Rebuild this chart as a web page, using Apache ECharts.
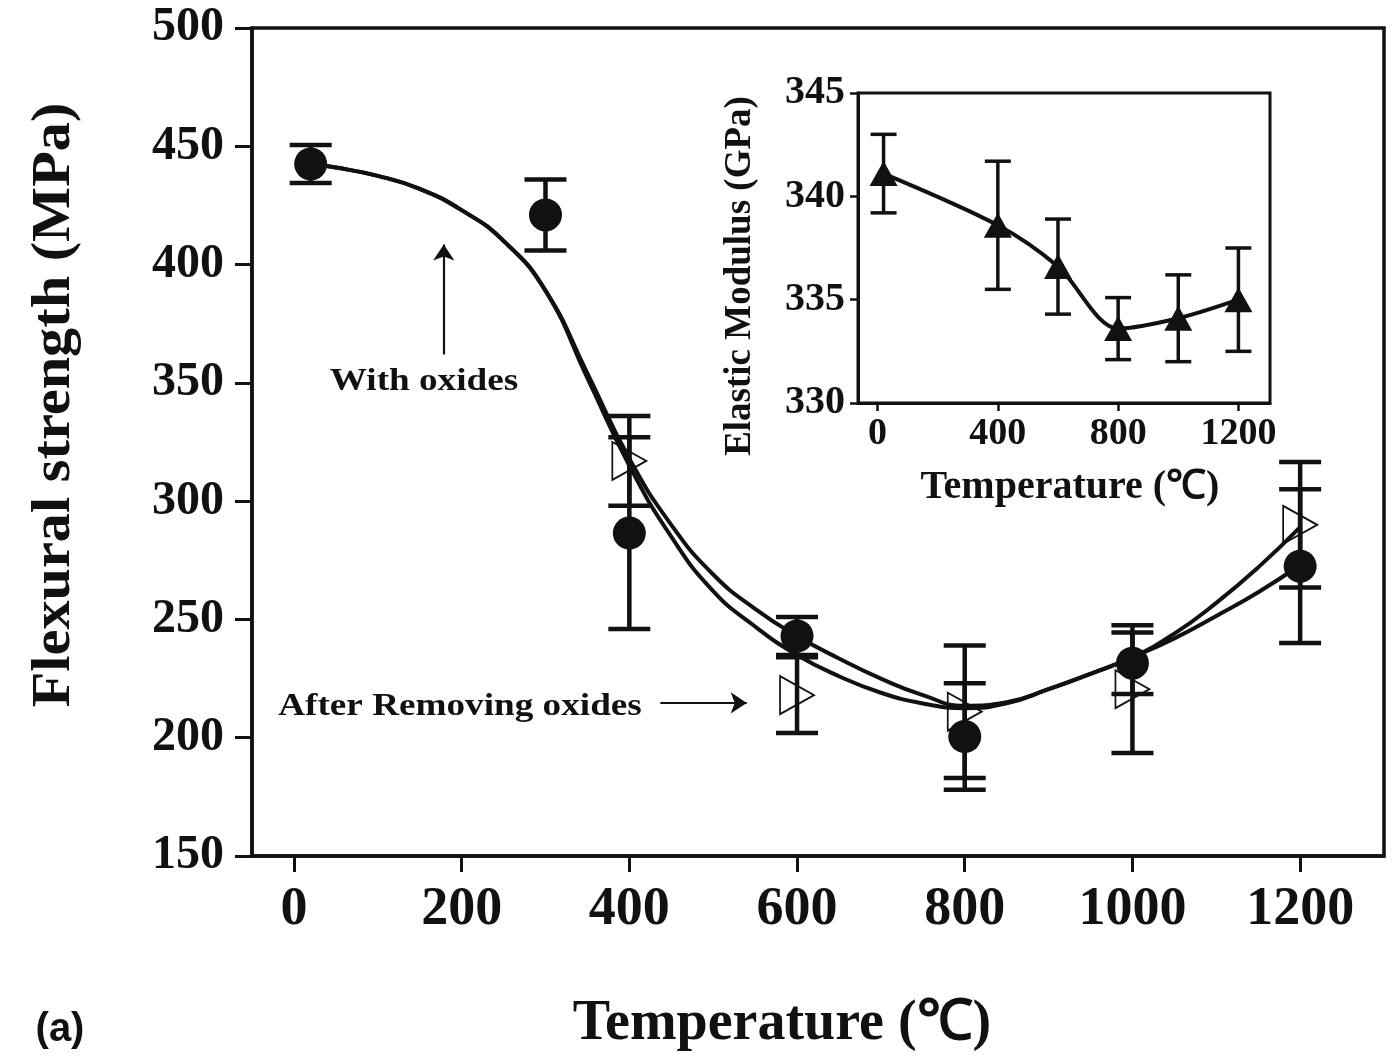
<!DOCTYPE html>
<html>
<head>
<meta charset="utf-8">
<script src="https://cdn.jsdelivr.net/npm/echarts@6/dist/echarts.min.js"></script>
<style>
html,body{margin:0;padding:0;background:#fff;}
#chart{width:1394px;height:1057px;}
</style>
</head>
<body>
<div id="chart"></div>
<script>
// ---- Main chart data (Flexural strength, MPa) ----
const tempCircle = [20, 300, 400, 600, 800, 1000, 1200];
const strengthCircle = [442.5, 421, 286.5, 243, 200.5, 231.5, 272.5];
const errCircle = [8, 15, 40.5, 8, 22.5, 13, 32.5];

const tempTriangle = [400, 600, 800, 1000, 1200];
const strengthTriangle = [317, 218, 211, 220.5, 290];
const errTriangle = [19, 16, 28, 27, 26.5];

// fitted curves
const fitTemp = [20, 50, 100, 150, 200, 250, 300, 350, 400, 450, 500, 550, 600, 650, 700, 750, 800, 850, 900, 950, 1000, 1050, 1100, 1150, 1200];
const fitCircle = [442.5, 441, 437.5, 432, 423, 410, 389, 354, 318, 290, 269, 254.5, 243, 233.5, 225, 218, 213.5, 215, 220.5, 227, 234, 242, 251.5, 261.5, 273];
const fitTriangle = [442.5, 441, 437.5, 432, 423, 410, 389, 352, 315, 285, 262, 247, 235, 226, 219, 214.5, 212.5, 214.5, 220.5, 227, 234, 244, 257, 272, 289];

const mainXTicks = [0, 200, 400, 600, 800, 1000, 1200];

// ---- Inset data (Elastic modulus, GPa) ----
const modTemp = [20, 400, 600, 800, 1000, 1200];
const modulus = [341.1, 338.6, 336.6, 333.6, 334.1, 335.0];
const modErr = [1.9, 3.1, 2.3, 1.5, 2.1, 2.5];
const insetXTicks = [0, 400, 800, 1200];

// ---- annotation arrows (data coords) ----
const arrowWith = [[178.7, 362], [178.7, 408.5]];
const arrowAfter = [[437, 214.7], [540, 214.7]];

const SERIF = '"Liberation Serif","Times New Roman",serif';
const INK = '#111';

function errRender(capW, lw) {
  return function (params, api) {
    const x = api.value(0), y = api.value(1), e = api.value(2);
    const t = api.coord([x, y + e]);
    const b = api.coord([x, y - e]);
    const hw = capW / 2;
    const st = {stroke: INK, lineWidth: lw};
    return {
      type: 'group',
      children: [
        {type: 'line', shape: {x1: t[0], y1: t[1], x2: b[0], y2: b[1]}, style: st},
        {type: 'line', shape: {x1: t[0] - hw, y1: t[1], x2: t[0] + hw, y2: t[1]}, style: st},
        {type: 'line', shape: {x1: b[0] - hw, y1: b[1], x2: b[0] + hw, y2: b[1]}, style: st}
      ]
    };
  };
}

const plain = v => String(v);

const chart = echarts.init(document.getElementById('chart'));
const option = {
  animation: false,
  backgroundColor: '#fff',
  grid: [
    {left: 252, top: 28, width: 1132, height: 828, show: true, borderColor: INK, borderWidth: 3.5, backgroundColor: 'transparent'},
    {left: 858, top: 93, width: 412, height: 310, show: true, borderColor: INK, borderWidth: 3, backgroundColor: '#fff'}
  ],
  xAxis: [
    {
      type: 'value', gridIndex: 0, min: -50, max: 1300,
      axisLine: {show: true, onZero: false, lineStyle: {color: INK, width: 3.5}},
      axisTick: {show: true, inside: false, length: 16, lineStyle: {color: INK, width: 3}, customValues: mainXTicks},
      axisLabel: {customValues: mainXTicks, formatter: plain, fontFamily: SERIF, fontWeight: 'bold', fontSize: 54, color: INK, margin: 27},
      splitLine: {show: false}
    },
    {
      type: 'value', gridIndex: 1, min: -65, max: 1305,
      axisLine: {show: true, onZero: false, lineStyle: {color: INK, width: 3}},
      axisTick: {show: true, inside: false, length: 8, lineStyle: {color: INK, width: 2.5}, customValues: insetXTicks},
      axisLabel: {customValues: insetXTicks, formatter: plain, fontFamily: SERIF, fontWeight: 'bold', fontSize: 38, color: INK, margin: 12},
      splitLine: {show: false}
    }
  ],
  yAxis: [
    {
      type: 'value', gridIndex: 0, min: 150, max: 500, interval: 50,
      axisLine: {show: true, onZero: false, lineStyle: {color: INK, width: 3.5}},
      axisTick: {show: true, inside: false, length: 17, lineStyle: {color: INK, width: 3}},
      axisLabel: {formatter: plain, fontFamily: SERIF, fontWeight: 'bold', fontSize: 48, color: INK, margin: 28},
      splitLine: {show: false}
    },
    {
      type: 'value', gridIndex: 1, min: 330, max: 345, interval: 5,
      axisLine: {show: true, onZero: false, lineStyle: {color: INK, width: 3}},
      axisTick: {show: true, inside: false, length: 8, lineStyle: {color: INK, width: 2.5}},
      axisLabel: {formatter: plain, fontFamily: SERIF, fontWeight: 'bold', fontSize: 40, color: INK, margin: 13},
      splitLine: {show: false}
    }
  ],
  series: [
    {
      name: 'fit-with', type: 'line', xAxisIndex: 0, yAxisIndex: 0,
      data: fitTemp.map((t, i) => [t, fitCircle[i]]),
      smooth: 0.5, showSymbol: false, lineStyle: {color: INK, width: 4}, z: 2,
      markLine: {
        silent: true, symbol: ['none', 'arrow'], symbolSize: 16,
        lineStyle: {color: INK, width: 2.2, type: 'solid', opacity: 1}, label: {show: false},
        emphasis: {disabled: true},
        data: [
          [{coord: arrowWith[0]}, {coord: arrowWith[1]}],
          [{coord: arrowAfter[0]}, {coord: arrowAfter[1]}]
        ]
      }
    },
    {
      name: 'fit-after', type: 'line', xAxisIndex: 0, yAxisIndex: 0,
      data: fitTemp.map((t, i) => [t, fitTriangle[i]]),
      smooth: 0.5, showSymbol: false, lineStyle: {color: INK, width: 4}, z: 2
    },
    {
      name: 'err-with', type: 'custom', xAxisIndex: 0, yAxisIndex: 0,
      renderItem: errRender(42, 4.5),
      data: tempCircle.map((t, i) => [t, strengthCircle[i], errCircle[i]]), z: 3
    },
    {
      name: 'err-after', type: 'custom', xAxisIndex: 0, yAxisIndex: 0,
      renderItem: errRender(42, 4.5),
      data: tempTriangle.map((t, i) => [t, strengthTriangle[i], errTriangle[i]]), z: 3
    },
    {
      name: 'With oxides', type: 'scatter', xAxisIndex: 0, yAxisIndex: 0,
      data: tempCircle.map((t, i) => [t, strengthCircle[i]]),
      symbol: 'circle', symbolSize: 33, itemStyle: {color: INK, opacity: 1}, z: 4
    },
    {
      name: 'After removing oxides', type: 'scatter', xAxisIndex: 0, yAxisIndex: 0,
      data: tempTriangle.map((t, i) => [t, strengthTriangle[i]]),
      symbol: 'triangle', symbolSize: [38, 34], symbolRotate: -90,
      itemStyle: {color: 'rgba(255,255,255,0)', borderColor: INK, borderWidth: 1.8, opacity: 1}, z: 5
    },
    {
      name: 'modulus-line', type: 'line', xAxisIndex: 1, yAxisIndex: 1,
      data: modTemp.map((t, i) => [t, modulus[i]]),
      smooth: 0.3, showSymbol: false, lineStyle: {color: INK, width: 4}, z: 6
    },
    {
      name: 'modulus-err', type: 'custom', xAxisIndex: 1, yAxisIndex: 1,
      renderItem: errRender(26, 3.5),
      data: modTemp.map((t, i) => [t, modulus[i], modErr[i]]), z: 7
    },
    {
      name: 'modulus', type: 'scatter', xAxisIndex: 1, yAxisIndex: 1,
      data: modTemp.map((t, i) => [t, modulus[i]]),
      symbol: 'triangle', symbolSize: [28, 25], itemStyle: {color: INK, opacity: 1}, z: 8
    }
  ],
  graphic: [
    {type: 'text', x: 55, y: 405, rotation: Math.PI / 2, scaleX: 1.08,
      style: {text: 'Flexural strength (MPa)', font: 'bold 54px ' + SERIF, fill: INK, align: 'center', verticalAlign: 'middle'}},
    {type: 'text', x: 782, y: 1025,
      style: {text: 'Temperature (℃)', font: 'bold 56px ' + SERIF, fill: INK, align: 'center', verticalAlign: 'middle'}},
    {type: 'text', x: 60, y: 1030,
      style: {text: '(a)', font: 'bold 40px "Liberation Sans",Arial,sans-serif', fill: INK, align: 'center', verticalAlign: 'middle'}},
    {type: 'text', x: 740, y: 276, rotation: Math.PI / 2,
      style: {text: 'Elastic Modulus (GPa)', font: 'bold 37px ' + SERIF, fill: INK, align: 'center', verticalAlign: 'middle'}},
    {type: 'text', x: 1070, y: 488,
      style: {text: 'Temperature (℃)', font: 'bold 40px ' + SERIF, fill: INK, align: 'center', verticalAlign: 'middle'}},
    {type: 'text', x: 424, y: 382, scaleX: 1.2,
      style: {text: 'With oxides', font: 'bold 31px ' + SERIF, fill: INK, align: 'center', verticalAlign: 'middle'}},
    {type: 'text', x: 460, y: 707, scaleX: 1.2,
      style: {text: 'After Removing oxides', font: 'bold 31px ' + SERIF, fill: INK, align: 'center', verticalAlign: 'middle'}}
  ]
};
chart.setOption(option);
</script>
</body>
</html>
